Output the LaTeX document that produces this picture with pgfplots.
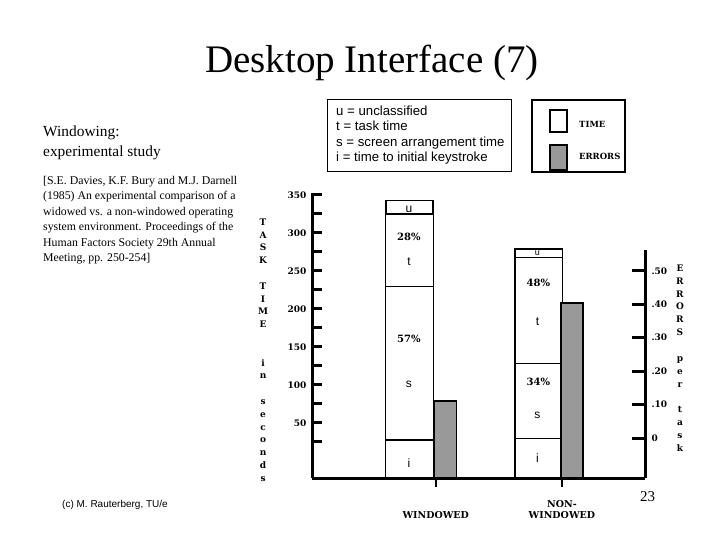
\documentclass[border=0pt]{standalone}
\usepackage{fontspec}
\setmainfont{Liberation Serif}
\newfontfamily\lsans{Liberation Sans}
\newfontfamily\dserif{DejaVu Serif}
\usepackage{pgfplots}
\pgfplotsset{compat=1.18}
\newcommand{\tickfont}{\dserif\bfseries\fontsize{9}{9}\selectfont}
\newcommand{\catfont}{\dserif\bfseries\fontsize{9.5}{11}\selectfont}
\newcommand{\legfont}{\dserif\bfseries\fontsize{8.5}{9}\selectfont}
\newcommand{\pctfont}{\dserif\bfseries\fontsize{10}{10}\selectfont}
\newcommand{\segfont}{\lsans\fontsize{12}{12}\selectfont}
\newcommand{\segsmall}{\lsans\fontsize{9}{9}\selectfont}
\newcommand{\vlabfont}{\dserif\bfseries\fontsize{9}{12.8}\selectfont}
\newcommand{\vlabfontb}{\dserif\bfseries\fontsize{9}{12.86}\selectfont}
\tikzset{
  seg/.style={inner sep=0pt, font=\segfont},
  segs/.style={inner sep=0pt, font=\segsmall},
  pct/.style={inner sep=0pt, font=\pctfont},
  cite/.style={anchor=base west, inner sep=0pt, font=\fontsize{11.8}{13}\selectfont},
  keyt/.style={anchor=base west, inner sep=0pt, font=\lsans\fontsize{13.2}{14}\selectfont},
}
\begin{document}
\begin{tikzpicture}
\path[use as bounding box] (0,0) rectangle (720pt,-540pt);
% slide text
\node[anchor=base, inner sep=0pt, font=\fontsize{39}{42}\selectfont] at (372pt,-73pt) {Desktop Interface (7)};
\node[anchor=base west, inner sep=0pt, font=\fontsize{15.4}{18}\selectfont] at (43pt,-137pt) {Windowing:};
\node[anchor=base west, inner sep=0pt, font=\fontsize{15.4}{18}\selectfont] at (43pt,-157pt) {experimental study};
\node[cite] at (43pt,-185pt) {[S.E. Davies, K.F. Bury and M.J. Darnell};
\node[cite] at (43pt,-200pt) {(1985) An experimental comparison of a};
\node[cite] at (43pt,-215pt) {widowed vs. a non-windowed operating};
\node[cite] at (43pt,-230.5pt) {system environment. Proceedings of the};
\node[cite] at (43pt,-246pt) {Human Factors Society 29th Annual};
\node[cite] at (43pt,-261pt) {Meeting, pp. 250-254]};
\node[anchor=base west, inner sep=0pt, font=\lsans\fontsize{10}{12}\selectfont] at (62pt,-507pt) {(c) M. Rauterberg, TU/e};
\node[anchor=base west, inner sep=0pt, font=\fontsize{15}{16}\selectfont] at (640pt,-501pt) {23};
% key box
\draw[line width=1pt] (327pt,-100pt) rectangle (511pt,-172pt);
\node[keyt] at (336pt,-116pt) {u = unclassified};
\node[keyt] at (336pt,-131pt) {t = task time};
\node[keyt] at (336pt,-147pt) {s = screen arrangement time};
\node[keyt] at (336pt,-162pt) {i = time to initial keystroke};
% series legend box
\draw[line width=1.5pt] (532pt,-100pt) rectangle (625pt,-172pt);
\draw[line width=2pt, fill=white] (550pt,-110pt) rectangle (567pt,-132pt);
\draw[line width=1.5pt, fill=black!40] (550pt,-145pt) rectangle (567pt,-170pt);
\node[anchor=west, inner sep=0pt, font=\legfont] at (579pt,-124pt) {TIME};
\node[anchor=west, inner sep=0pt, font=\legfont] at (579pt,-156pt) {ERRORS};

% ---------- time axis ----------
\begin{axis}[
  at={(312pt,-478pt)}, anchor=south west,
  scale only axis, width=333pt, height=285pt,
  xmin=0.125, xmax=2.574, ymin=-22.4, ymax=352.6,
  axis x line=bottom, axis y line=left,
  axis line style={-, line width=3pt},
  ytick={50,100,150,200,250,300,350},
  yticklabels={50,100,150,200,250,300,350},
  minor ytick={25,75,125,175,225,275,325},
  tick align=inside,
  major tick length=10pt, minor tick length=10pt,
  ytick style={line width=3pt, black},
  yticklabel style={font=\tickfont, xshift=-2pt},
  xtick={1.035,1.963}, xticklabels={WINDOWED,{NON-\\WINDOWED}},
  xtick style={line width=2pt, black, yshift=-9pt},
  xticklabel style={align=center, anchor=south, yshift=-44pt, font=\catfont},
  ylabel={T\\A\\S\\K\\[12.8pt]T\\I\\M\\E\\[25.6pt]i\\n\\[12.8pt]s\\e\\c\\o\\n\\d\\s},
  ylabel style={rotate=-90, at={(axis description cs:-0.147,0.9105)}, anchor=north, align=center, inner sep=0pt, font=\vlabfont},
  ybar stacked, stack negative=on previous, bar width=47.5pt,
  clip=false,
]
\addplot[draw=none, fill=none] coordinates {(0.842,-22.4) (1.792,-22.4)};
\addplot[fill=white, draw=black, line width=1.2pt] coordinates {(0.842,50.0) (1.792,52.2)};
\addplot[fill=white, draw=black, line width=1.2pt] coordinates {(0.842,202.4) (1.792,98.7)};
\addplot[fill=white, draw=black, line width=1.2pt] coordinates {(0.842,95.0) (1.792,139.0)};
\addplot[fill=white, draw=black, line width=1.6pt] coordinates {(0.842,17.5) (1.792,11.5)};
\coordinate (wu) at (axis cs:0.838,331.6);
\coordinate (wt) at (axis cs:0.838,261.8);
\coordinate (ws) at (axis cs:0.838,101.3);
\coordinate (wi) at (axis cs:0.838,-2.6);
\coordinate (nu) at (axis cs:1.783,273.0);
\coordinate (nt) at (axis cs:1.783,182.9);
\coordinate (ns) at (axis cs:1.783,60.5);
\coordinate (ni) at (axis cs:1.783,3.9);
\coordinate (wp1) at (axis cs:0.838,294.7);
\coordinate (wp2) at (axis cs:0.838,160.5);
\coordinate (np1) at (axis cs:1.790,234.2);
\coordinate (np2) at (axis cs:1.790,103.9);
\end{axis}
\node[seg] at (wu) {u};
\node[seg] at (wt) {t};
\node[seg] at (ws) {s};
\node[seg] at (wi) {i};
\node[segs] at (nu) {u};
\node[seg] at (nt) {t};
\node[seg] at (ns) {s};
\node[seg] at (ni) {i};
\node[pct] at (wp1) {28\%};
\node[pct] at (wp2) {57\%};
\node[pct] at (np1) {48\%};
\node[pct] at (np2) {34\%};

% ---------- errors axis ----------
\begin{axis}[
  at={(312pt,-478pt)}, anchor=south west,
  scale only axis, width=333pt, height=228pt,
  xmin=0.125, xmax=2.574, ymin=-0.1195, ymax=0.562,
  axis x line=none, axis y line=right,
  axis line style={-, line width=3pt},
  ytick={0,0.1,0.2,0.3,0.4,0.5},
  yticklabels={0,.10,.20,.30,.40,.50},
  tick align=inside, major tick length=13pt,
  ytick style={line width=3pt, black},
  yticklabel style={font=\tickfont, anchor=west, xshift=3pt},
  ylabel={E\\R\\R\\O\\R\\S\\[12.86pt]p\\e\\r\\[12.86pt]t\\a\\s\\k},
  ylabel style={rotate=-90, at={(axis description cs:1.105,0.936)}, anchor=north, align=center, inner sep=0pt, font=\vlabfontb},
  ybar stacked, stack negative=on previous, bar width=22pt,
  clip=false,
]
\addplot[draw=none, fill=none] coordinates {(1.107,-0.1195) (2.037,-0.1195)};
\addplot[fill=black!40, draw=black, line width=1.5pt] coordinates {(1.107,0.2295) (2.037,0.5225)};
\end{axis}
\end{tikzpicture}
\end{document}
